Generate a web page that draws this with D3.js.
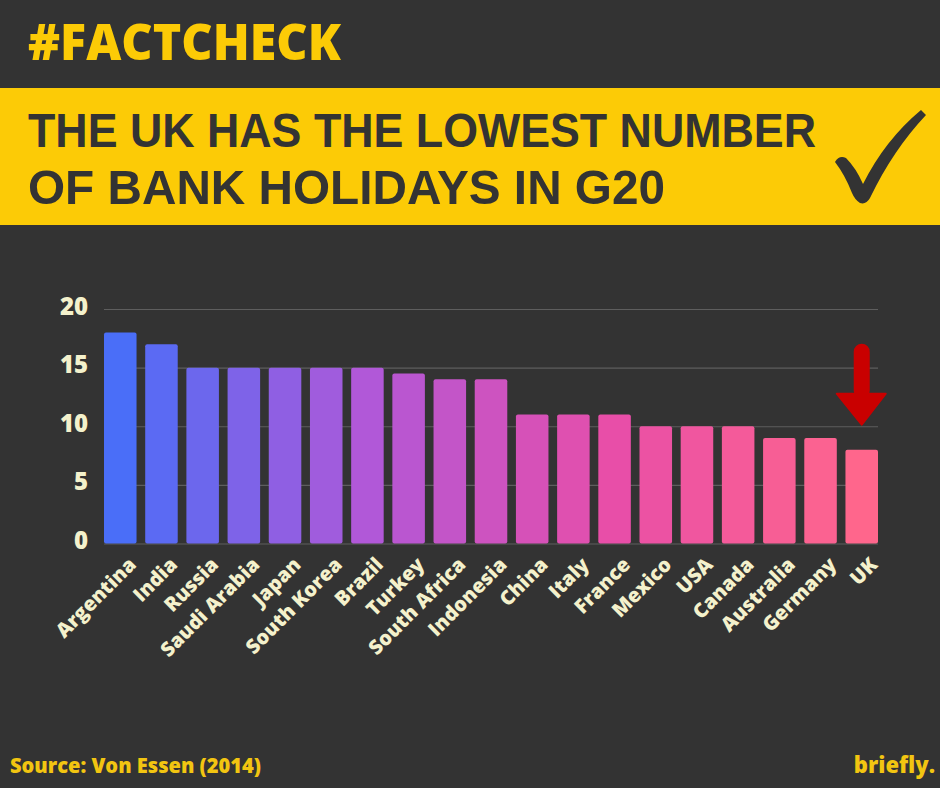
<!DOCTYPE html>
<html>
<head>
<meta charset="utf-8">
<script src="https://cdn.jsdelivr.net/npm/d3@7"></script>
<style>
    body { margin: 0; background: #333333; }
    svg { display: block; }
    text { font-family: "Open Sans", sans-serif; font-weight: 800; }
    text.headline { font-family: "Liberation Sans", sans-serif; font-weight: 700; }
</style>
</head>
<body>
<svg id="gfx" width="940" height="788"></svg>
<script>
var countries = ["Argentina", "India", "Russia", "Saudi Arabia", "Japan", "South Korea", "Brazil",
    "Turkey", "South Africa", "Indonesia", "China", "Italy", "France", "Mexico", "USA", "Canada",
    "Australia", "Germany", "UK"];
var holidays = [18, 17, 15, 15, 15, 15, 15, 14.5, 14, 14, 11, 11, 11, 10, 10, 10, 9, 9, 8];
var yTicks = [0, 5, 10, 15, 20];
var tag = "#FACTCHECK";
var headline = ["THE UK HAS THE LOWEST NUMBER", "OF BANK HOLIDAYS IN G20"];
var source = "Source: Von Essen (2014)";
var brand = "briefly.";
var highlight = "UK";

var chart = {};

function initialise() {
    chart = {
        width: 940,
        height: 788,
        left: 104,
        right: 878,
        top: 309,
        bottom: 543.5,
        yellow: "#fccb06",
        dark: "#333333",
        cream: "#f4f1cc"
    };
    chart.svg = d3.select("#gfx");

    chart.x = d3.scaleBand()
        .domain(countries)
        .range([chart.left, chart.right])
        .paddingInner(0.21)
        .paddingOuter(0);

    chart.y = d3.scaleLinear()
        .domain([0, 20])
        .range([chart.bottom, chart.top]);

    // blue -> purple -> pink across the bars
    chart.color = d3.scaleLinear()
        .domain([0, 6, 12, 18])
        .range(["#4a6ef8", "#b158d8", "#e84ea8", "#ff668c"])
        .interpolate(d3.interpolateRgb);

    drawHeader();
    drawAxes();
    drawBars();
    drawArrow();
    drawFooter();
}

function drawHeader() {
    var svg = chart.svg;

    svg.append("text")
        .attr("x", 28).attr("y", 60)
        .attr("font-size", 49)
        .attr("fill", chart.yellow)
        .attr("textLength", 313).attr("lengthAdjust", "spacingAndGlyphs")
        .text(tag);

    svg.append("rect")
        .attr("x", 0).attr("y", 88)
        .attr("width", chart.width).attr("height", 137)
        .attr("fill", chart.yellow);

    var lineWidths = [788, 637];
    var baselines = [147, 204];
    svg.selectAll("text.headline")
        .data(headline)
        .enter().append("text")
        .attr("class", "headline")
        .attr("x", 28)
        .attr("y", (d, i) => baselines[i])
        .attr("font-size", 49)
        .attr("fill", chart.dark)
        .attr("textLength", (d, i) => lineWidths[i])
        .attr("lengthAdjust", "spacingAndGlyphs")
        .text(d => d);

    // tick mark
    svg.append("path")
        .attr("d", "M835,162 Q839,155 846,158 Q856,168 863,184 Q885,140 921,110 L926,115 " +
                   "Q893,150 870,198 Q866,205 860,203 Q855,200 852,193 Q845,175 835,162 Z")
        .attr("fill", chart.dark);
}

function drawAxes() {
    var svg = chart.svg;

    var yAxis = svg.append("g")
        .attr("class", "y-axis")
        .attr("transform", "translate(" + chart.left + ",0)")
        .call(d3.axisLeft(chart.y)
            .tickValues(yTicks)
            .tickSize(-(chart.right - chart.left))
            .tickPadding(16));

    yAxis.select(".domain").remove();
    yAxis.selectAll(".tick line")
        .attr("stroke", "#5e5e5e")
        .attr("stroke-width", 1.2);
    yAxis.selectAll(".tick text")
        .attr("fill", chart.cream)
        .attr("font-size", 24)
        .attr("font-family", "'Open Sans', sans-serif")
        .attr("font-weight", 800)
        .attr("dy", "0.21em");

    var xAxis = svg.append("g")
        .attr("class", "x-axis")
        .attr("transform", "translate(0," + chart.bottom + ")")
        .call(d3.axisBottom(chart.x).tickSize(0));

    xAxis.select(".domain").remove();
    xAxis.selectAll(".tick text")
        .attr("y", 0).attr("dy", 0)
        .attr("text-anchor", "end")
        .attr("transform", "translate(17,22.5) rotate(-45)")
        .attr("fill", chart.cream)
        .attr("font-size", 20)
        .attr("font-family", "'Open Sans', sans-serif")
        .attr("font-weight", 800);
}

function drawBars() {
    var x = chart.x, y = chart.y;

    chart.svg.append("g").attr("class", "bars")
        .selectAll("rect")
        .data(countries)
        .enter().append("rect")
        .attr("x", d => x(d))
        .attr("y", (d, i) => y(holidays[i]))
        .attr("width", x.bandwidth())
        .attr("height", (d, i) => y(0) - y(holidays[i]))
        .attr("rx", 2)
        .attr("fill", (d, i) => chart.color(i));
}

function drawArrow() {
    var i = countries.indexOf(highlight);
    var cx = chart.x(highlight) + chart.x.bandwidth() / 2;
    var tip = chart.y(holidays[i]) - 25;
    var red = "#c90000";

    var g = chart.svg.append("g").attr("class", "arrow");
    g.append("rect")
        .attr("x", cx - 8).attr("y", tip - 81)
        .attr("width", 16).attr("height", 55)
        .attr("rx", 8)
        .attr("fill", red);
    g.append("path")
        .attr("d", "M" + (cx - 25) + "," + (tip - 31) + " L" + (cx + 24) + "," + (tip - 31) +
                   " L" + cx + "," + tip + " Z")
        .attr("stroke", red).attr("stroke-width", 2).attr("stroke-linejoin", "round")
        .attr("fill", red);
}

function drawFooter() {
    var svg = chart.svg;

    svg.append("text")
        .attr("x", 10).attr("y", 773)
        .attr("font-size", 21)
        .attr("fill", "#f2c511")
        .attr("textLength", 251).attr("lengthAdjust", "spacingAndGlyphs")
        .text(source);

    svg.append("text")
        .attr("x", 935).attr("y", 773)
        .attr("text-anchor", "end")
        .attr("font-size", 22)
        .attr("fill", "#f2c511")
        .text(brand);
}

initialise();
</script>
</body>
</html>
